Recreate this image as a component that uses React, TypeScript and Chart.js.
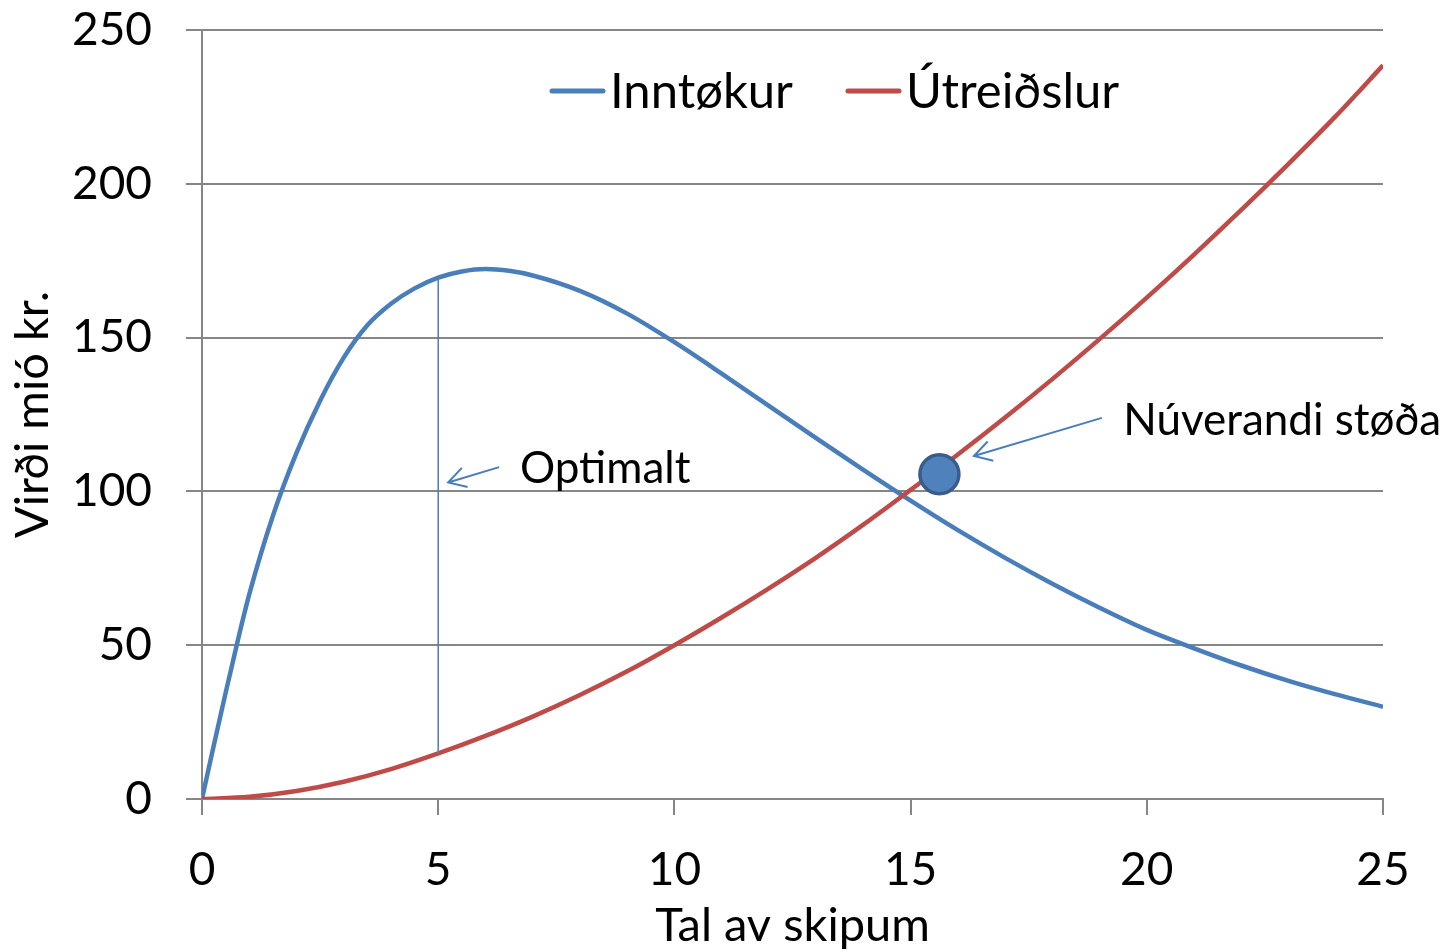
import React, { useEffect, useRef } from "react";
import { Chart, registerables } from "chart.js";

Chart.register(...registerables);

// ---- Data ----
const inntokurX = [0, 0.25, 0.5, 0.75, 1, 1.5, 2, 2.5, 3, 3.5, 4, 4.5, 5, 5.5, 6, 6.5, 7, 8, 9, 10, 11, 12, 13, 14, 15, 16, 17, 18, 19, 20, 21, 22, 23, 24, 25];
const inntokurY = [0, 17.5, 34.5, 51, 66.5, 92, 112.5, 129.5, 143.5, 154, 161, 166, 169.5, 171.5, 172.3, 171.7, 170.2, 165.2, 157.8, 148.5, 138.3, 127.8, 117.3, 107, 97, 87.4, 78.4, 70, 62.2, 55, 49, 43.4, 38.4, 34, 30];

const utreidslurX = [0, 1, 2, 3, 4, 5, 6, 7, 8, 9, 10, 11, 12, 13, 14, 15, 16, 17, 18, 19, 20, 21, 22, 23, 24, 25];
const utreidslurY = [0, 0.7, 2.6, 5.6, 9.7, 14.8, 20.5, 26.8, 33.8, 41.5, 50, 59, 68.5, 78.5, 89.2, 100.5, 112, 124, 136.5, 149.5, 163, 177, 191.5, 206.5, 222, 238.5];

const optimalX = [5, 5];
const optimalY = [14.8, 169.5];

const currentX = [15.61];
const currentY = [105.6];

const seriesLabels = ["Inntøkur", "Útreiðslur"];
const xTickValues = [0, 5, 10, 15, 20, 25];
const yTickValues = [0, 50, 100, 150, 200, 250];

const xTitle = "Tal av skipum";
const yTitle = "Virði mió kr.";
const optimalText = "Optimalt";
const currentText = "Núverandi støða";

// annotation anchors (in data units)
const optArrowTail = [6.29, 107.9];
const optArrowTip = [5.21, 102.9];
const optTextPos = [6.73, 102.7];
const curArrowTail = [19.05, 123.9];
const curArrowTip = [16.34, 111.5];
const curTextPos = [19.5, 118.3];

const BLUE = "#4A7EBB";
const RED = "#BE4B48";
const GRID = "#868686";
const FONT = "Lato";

function drawArrow(ctx: CanvasRenderingContext2D, x1: number, y1: number, x2: number, y2: number) {
  ctx.beginPath();
  ctx.moveTo(x1, y1);
  ctx.lineTo(x2, y2);
  const ang = Math.atan2(y1 - y2, x1 - x2);
  const len = 20;
  const spread = Math.PI / 6;
  ctx.moveTo(x2 + len * Math.cos(ang - spread), y2 + len * Math.sin(ang - spread));
  ctx.lineTo(x2, y2);
  ctx.lineTo(x2 + len * Math.cos(ang + spread), y2 + len * Math.sin(ang + spread));
  ctx.stroke();
}

const overlayPlugin = {
  id: "overlay",
  afterDraw(chart: any) {
    const { ctx, chartArea } = chart;
    const xs = chart.scales.x;
    const ys = chart.scales.y;
    ctx.save();
    // arrows
    ctx.strokeStyle = BLUE;
    ctx.lineWidth = 2;
    ctx.lineCap = "butt";
    drawArrow(ctx, xs.getPixelForValue(optArrowTail[0]), ys.getPixelForValue(optArrowTail[1]), xs.getPixelForValue(optArrowTip[0]), ys.getPixelForValue(optArrowTip[1]));
    drawArrow(ctx, xs.getPixelForValue(curArrowTail[0]), ys.getPixelForValue(curArrowTail[1]), xs.getPixelForValue(curArrowTip[0]), ys.getPixelForValue(curArrowTip[1]));
    // texts
    ctx.fillStyle = "#000";
    ctx.font = `44px ${FONT}`;
    ctx.textAlign = "left";
    ctx.textBaseline = "alphabetic";
    ctx.fillText(optimalText, xs.getPixelForValue(optTextPos[0]), ys.getPixelForValue(optTextPos[1]));
    ctx.fillText(currentText, xs.getPixelForValue(curTextPos[0]), ys.getPixelForValue(curTextPos[1]));

    // legend
    ctx.font = `49px ${FONT}`;
    ctx.textBaseline = "alphabetic";
    const colors = [BLUE, RED];
    let lx = chartArea.left + 348;
    const ly = chartArea.top + 61;
    seriesLabels.forEach((lab, i) => {
      ctx.strokeStyle = colors[i];
      ctx.lineWidth = 5;
      ctx.lineCap = "round";
      ctx.beginPath();
      ctx.moveTo(lx + 2, ly);
      ctx.lineTo(lx + 53, ly);
      ctx.stroke();
      ctx.fillStyle = "#000";
      ctx.fillText(lab, lx + 60, ly + 17);
      lx += 60 + ctx.measureText(lab).width + 53;
    });
    ctx.restore();
  },
};

export default function App() {
  const ref = useRef<HTMLCanvasElement | null>(null);
  useEffect(() => {
    if (!ref.current) return;
    Chart.defaults.font.family = FONT;
    Chart.defaults.color = "#000";
    const chart = new Chart(ref.current, {
      type: "line",
      data: {
        datasets: [
          {
            label: "current",
            data: currentX.map((x, i) => ({ x, y: currentY[i] })),
            showLine: false,
            pointRadius: 19.5,
            pointBackgroundColor: "#4F81BD",
            pointBorderColor: "#385D8A",
            pointBorderWidth: 3.5,
            order: 0,
          },
          {
            label: "optimal",
            data: optimalX.map((x, i) => ({ x, y: optimalY[i] })),
            borderColor: BLUE,
            borderWidth: 1.5,
            pointRadius: 0,
            order: 1,
          },
          {
            label: seriesLabels[1],
            data: utreidslurX.map((x, i) => ({ x, y: utreidslurY[i] })),
            borderColor: RED,
            borderWidth: 4.5,
            pointRadius: 0,
            cubicInterpolationMode: "monotone",
            order: 2,
          },
          {
            label: seriesLabels[0],
            data: inntokurX.map((x, i) => ({ x, y: inntokurY[i] })),
            borderColor: BLUE,
            borderWidth: 4.5,
            pointRadius: 0,
            cubicInterpolationMode: "monotone",
            order: 3,
          },
        ],
      },
      options: {
        responsive: false,
        animation: false,
        devicePixelRatio: 1,
        layout: { padding: { top: 30, right: 58, left: 0, bottom: 0 } },
        plugins: { legend: { display: false }, tooltip: { enabled: false } },
        scales: {
          x: {
            type: "linear",
            min: 0,
            max: 25,
            afterBuildTicks: (s: any) => {
              s.ticks = xTickValues.map((v) => ({ value: v }));
            },
            afterFit: (s: any) => {
              s.height = 153;
            },
            ticks: { font: { size: 46 }, padding: 28, color: "#000", maxRotation: 0 },
            grid: { drawOnChartArea: false, drawTicks: true, tickLength: 16, color: GRID, lineWidth: 2 },
            border: { display: true, color: GRID, width: 2 },
            title: { display: true, text: xTitle, font: { size: 47 }, padding: { top: 0, bottom: -2 }, color: "#000" },
          },
          y: {
            type: "linear",
            min: 0,
            max: 250,
            afterBuildTicks: (s: any) => {
              s.ticks = yTickValues.map((v) => ({ value: v }));
            },
            afterFit: (s: any) => {
              s.width = 202;
              s.paddingTop = 0;
              s.paddingBottom = 0;
            },
            ticks: { font: { size: 46 }, padding: 34, color: "#000" },
            grid: { drawOnChartArea: true, drawTicks: true, tickLength: 16, color: GRID, lineWidth: 2 },
            border: { display: true, color: GRID, width: 2 },
            title: { display: true, text: yTitle, font: { size: 47 }, padding: { top: 5, bottom: 0 }, color: "#000" },
          },
        },
      },
      plugins: [overlayPlugin],
    } as any);
    return () => chart.destroy();
  }, []);
  return (
    <div style={{ position: "fixed", left: 0, top: 0, width: 1441, height: 952, background: "#fff" }}>
      <canvas ref={ref} width={1441} height={952} style={{ display: "block", width: 1441, height: 952 }} />
    </div>
  );
}
